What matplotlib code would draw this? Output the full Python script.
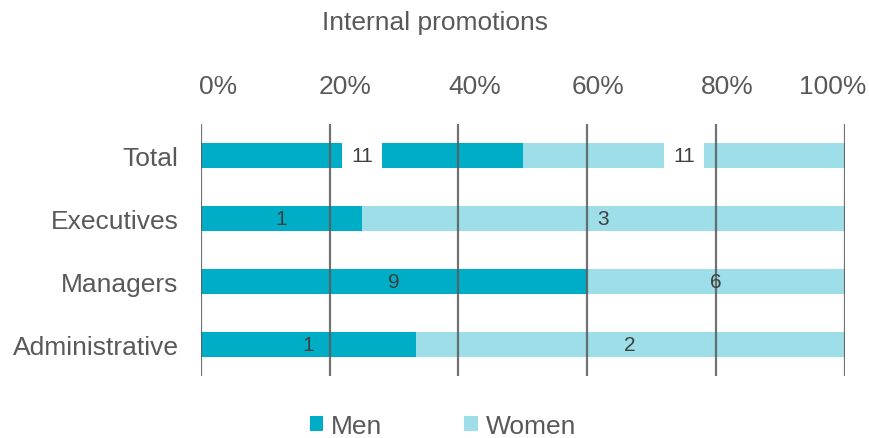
import matplotlib
matplotlib.use("Agg")
import matplotlib.pyplot as plt
import matplotlib.transforms as mtransforms
import numpy as np

plt.rcParams['font.family'] = ['Liberation Sans', 'DejaVu Sans']

categories = ["Total", "Executives", "Managers", "Administrative"]
men = [11, 1, 9, 1]
women = [11, 3, 6, 2]
xticks = [0, 20, 40, 60, 80, 100]
xtick_labels = ["0%", "20%", "40%", "60%", "80%", "100%"]

MEN_COLOR = "#00ADC7"
WOMEN_COLOR = "#9DDEE9"
TEXT_COLOR = "#595959"
FS = 19

men_arr = np.array(men, dtype=float)
women_arr = np.array(women, dtype=float)
totals = men_arr + women_arr
men_pct = men_arr / totals * 100
women_pct = women_arr / totals * 100

fig = plt.figure(figsize=(8.7, 4.39), dpi=100)
ax = fig.add_axes([0.231, 0.1412, 0.740, 0.5741])

y = np.arange(len(categories))
bh = 0.4
bars_m = ax.barh(y, men_pct, height=bh, color=MEN_COLOR, label="Men", zorder=2)
bars_w = ax.barh(y, women_pct, left=men_pct, height=bh, color=WOMEN_COLOR,
                 label="Women", zorder=2)

# vertical grid lines drawn above the bars
for t in xticks:
    ax.axvline(t, color=TEXT_COLOR, lw=1.6, alpha=0.85, zorder=3)

# value labels; the Total row gets white boxes
for i in range(len(categories)):
    boxed = categories[i] == "Total"
    bbox = dict(boxstyle="square,pad=0.45", fc="white", ec="none") if boxed else None
    ax.text(men_pct[i] / 2, y[i], str(men[i]), ha="center", va="center",
            fontsize=15, color="#404040", bbox=bbox, zorder=4)
    ax.text(men_pct[i] + women_pct[i] / 2, y[i], str(women[i]), ha="center",
            va="center", fontsize=15, color="#404040", bbox=bbox, zorder=4)

ax.set_xlim(0, 100)
ax.set_ylim(len(categories) - 0.5, -0.5)
ax.set_yticks(y)
ax.set_yticklabels(categories, fontsize=FS, color=TEXT_COLOR)
ax.set_xticks(xticks)
ax.set_xticklabels(xtick_labels, fontsize=FS, color=TEXT_COLOR)
ax.xaxis.tick_top()
ax.tick_params(axis="x", length=0, pad=19)
ax.tick_params(axis="y", length=0, pad=16)
for s in ax.spines.values():
    s.set_visible(False)

# nudge the top tick labels horizontally (in points)
label_shift_pt = [12, 11, 12, 8, 8, -9]
for lab, dx in zip(ax.get_xticklabels(), label_shift_pt):
    lab.set_transform(lab.get_transform() +
                      mtransforms.ScaledTranslation(dx / 72, 0, fig.dpi_scale_trans))

fig.text(0.5, 1 - 23 / 439, "Internal promotions", ha="center", va="center",
         fontsize=FS, color=TEXT_COLOR)

leg = fig.legend(handles=[bars_m, bars_w], labels=["Men", "Women"],
                 loc="center", bbox_to_anchor=(443 / 870, 1 - 427 / 439),
                 ncol=2, frameon=False, fontsize=FS, handlelength=0.5,
                 handleheight=0.5, handletextpad=0.3, columnspacing=3.1)
for t in leg.get_texts():
    t.set_color(TEXT_COLOR)

fig.savefig("out.png", dpi=100, facecolor="white")
